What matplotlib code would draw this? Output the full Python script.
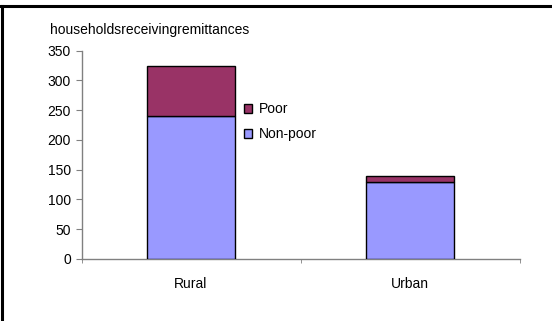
import matplotlib.pyplot as plt
from matplotlib.patches import Patch

plt.rcParams['font.family'] = ['Liberation Sans', 'DejaVu Sans']

areas = ['Rural', 'Urban']
non_poor = [240, 129]
poor = [84, 11]
y_ticks = [0, 50, 100, 150, 200, 250, 300, 350]

W, H = 552, 321
fig = plt.figure(figsize=(W / 100, H / 100), dpi=100)

# plot area in pixel terms
x0, x1 = 81.5, 519.5
y0, y1 = 259, 50.5
ax = fig.add_axes([x0 / W, (H - y0) / H, (x1 - x0) / W, (y0 - y1) / H])

pos = list(range(len(areas)))
ax.bar(pos, non_poor, width=0.40, color='#9999ff', edgecolor='black', linewidth=1.0, zorder=3)
ax.bar(pos, poor, width=0.40, bottom=non_poor, color='#993366', edgecolor='black', linewidth=1.0, zorder=3)

ax.set_xlim(-0.5, len(areas) - 0.5)
ax.set_ylim(0, 350)
ax.set_yticks(y_ticks)
ax.set_xticks(pos)
ax.set_xticklabels(areas)
ax.set_xticks([-0.5, 0.5, 1.5], minor=True)
ax.tick_params(axis='x', which='major', length=0, pad=13, labelsize=10)
ax.tick_params(axis='x', which='minor', length=3, color='#808080', direction='out')
ax.tick_params(axis='y', length=4, color='#808080', pad=3.5, labelsize=10)
for s in ['top', 'right']:
    ax.spines[s].set_visible(False)
for s in ['left', 'bottom']:
    ax.spines[s].set_color('#808080')
    ax.spines[s].set_linewidth(1.0)

fig.text(50 / W, 1 - 30 / H, 'householdsreceivingremittances', fontsize=10, va='center', ha='left')

handles = [Patch(facecolor='#993366', edgecolor='black', linewidth=1.0),
           Patch(facecolor='#9999ff', edgecolor='black', linewidth=1.0)]
fig.legend(handles, ['Poor', 'Non-poor'], loc='upper left',
           bbox_to_anchor=(244 / W, 1 - 102 / H), frameon=False, fontsize=10,
           handlelength=0.6, handleheight=0.6, handletextpad=0.45, labelspacing=0.8,
           borderpad=0, borderaxespad=0)

# outer frame (top and left edges only visible)
fig.add_artist(plt.Line2D([0, 1], [1 - 6 / H, 1 - 6 / H], color='black', linewidth=2.2, transform=fig.transFigure))
fig.add_artist(plt.Line2D([2 / W, 2 / W], [0, 1 - 6 / H], color='black', linewidth=2.2, transform=fig.transFigure))

fig.savefig('out.png', dpi=100)
